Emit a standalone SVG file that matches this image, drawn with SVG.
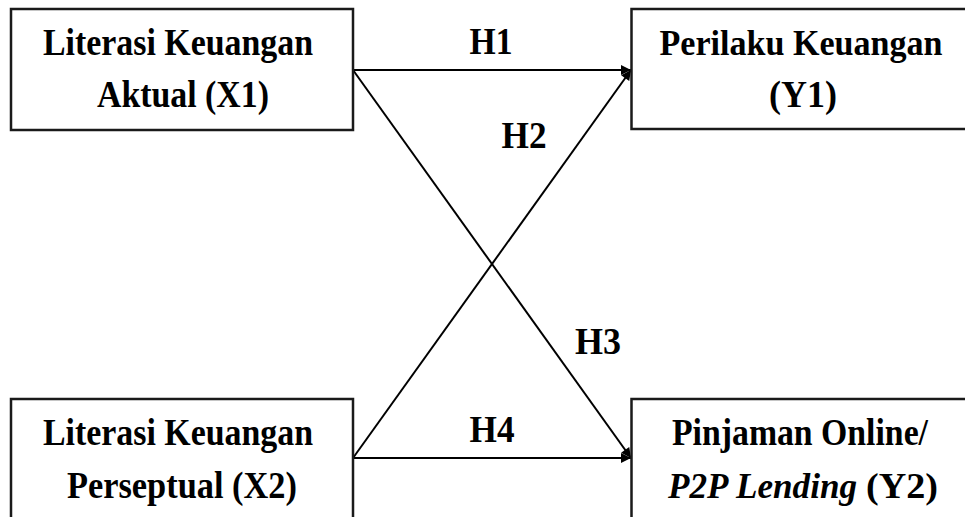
<svg xmlns="http://www.w3.org/2000/svg" width="965" height="517" viewBox="0 0 965 517">
<style>
.box{fill:#fff;stroke:#1a1a1a;stroke-width:2.5}
.t{font-family:"Liberation Serif","Times New Roman",serif;font-weight:bold;font-size:38px;fill:#000;text-anchor:middle}
.s{text-anchor:start;font-size:35px}
.m{font-size:35px}
.i{font-style:italic}
.lbl{font-family:"Liberation Serif","Times New Roman",serif;font-weight:bold;font-size:38px;fill:#000;text-anchor:middle}
.c{stroke:#000;stroke-width:2;fill:none;marker-end:url(#ah)}
</style>
<defs>
<marker id="ah" viewBox="0 0 10 10" refX="10" refY="5" markerWidth="11" markerHeight="10" markerUnits="userSpaceOnUse" orient="auto">
<path d="M0,0 L10,5 L0,10 z" fill="#000"/>
</marker>
</defs>
<rect width="965" height="517" fill="#fff"/>
<g id="connectors">
<line class="c" x1="353" y1="70" x2="631" y2="70"/>
<line class="c" x1="353" y1="458" x2="631" y2="70"/>
<line class="c" x1="353" y1="70" x2="631" y2="458"/>
<line class="c" x1="353" y1="458" x2="631" y2="458"/>
<text class="lbl" x="491" y="54" textLength="43" lengthAdjust="spacingAndGlyphs">H1</text>
<text class="lbl" x="524" y="148" textLength="45" lengthAdjust="spacingAndGlyphs">H2</text>
<text class="lbl" x="598" y="354" textLength="46" lengthAdjust="spacingAndGlyphs">H3</text>
<text class="lbl" x="492" y="442" textLength="45" lengthAdjust="spacingAndGlyphs">H4</text>
</g>
<g id="x1">
<rect class="box" x="11" y="9" width="342" height="121"/>
<text class="t" x="178" y="55" textLength="270" lengthAdjust="spacingAndGlyphs">Literasi Keuangan</text>
<text class="t" x="183" y="107" textLength="172" lengthAdjust="spacingAndGlyphs">Aktual (X1)</text>
</g>
<g id="y1">
<rect class="box" x="631.5" y="9" width="336" height="120"/>
<text class="t m" x="801" y="55" textLength="283" lengthAdjust="spacingAndGlyphs">Perilaku Keuangan</text>
<text class="t" x="803" y="107" textLength="68" lengthAdjust="spacingAndGlyphs">(Y1)</text>
</g>
<g id="x2">
<rect class="box" x="11" y="399" width="342" height="130"/>
<text class="t" x="178" y="445" textLength="270" lengthAdjust="spacingAndGlyphs">Literasi Keuangan</text>
<text class="t" x="182" y="498" textLength="230" lengthAdjust="spacingAndGlyphs">Perseptual (X2)</text>
</g>
<g id="y2">
<rect class="box" x="631.5" y="399" width="336" height="130"/>
<text class="t" x="800" y="445" textLength="256" lengthAdjust="spacingAndGlyphs">Pinjaman Online/</text>
<text class="t s i" x="668" y="498" textLength="189" lengthAdjust="spacingAndGlyphs">P2P Lending</text>
<text class="t s" x="866" y="498" textLength="72" lengthAdjust="spacingAndGlyphs">(Y2)</text>
</g>
</svg>
